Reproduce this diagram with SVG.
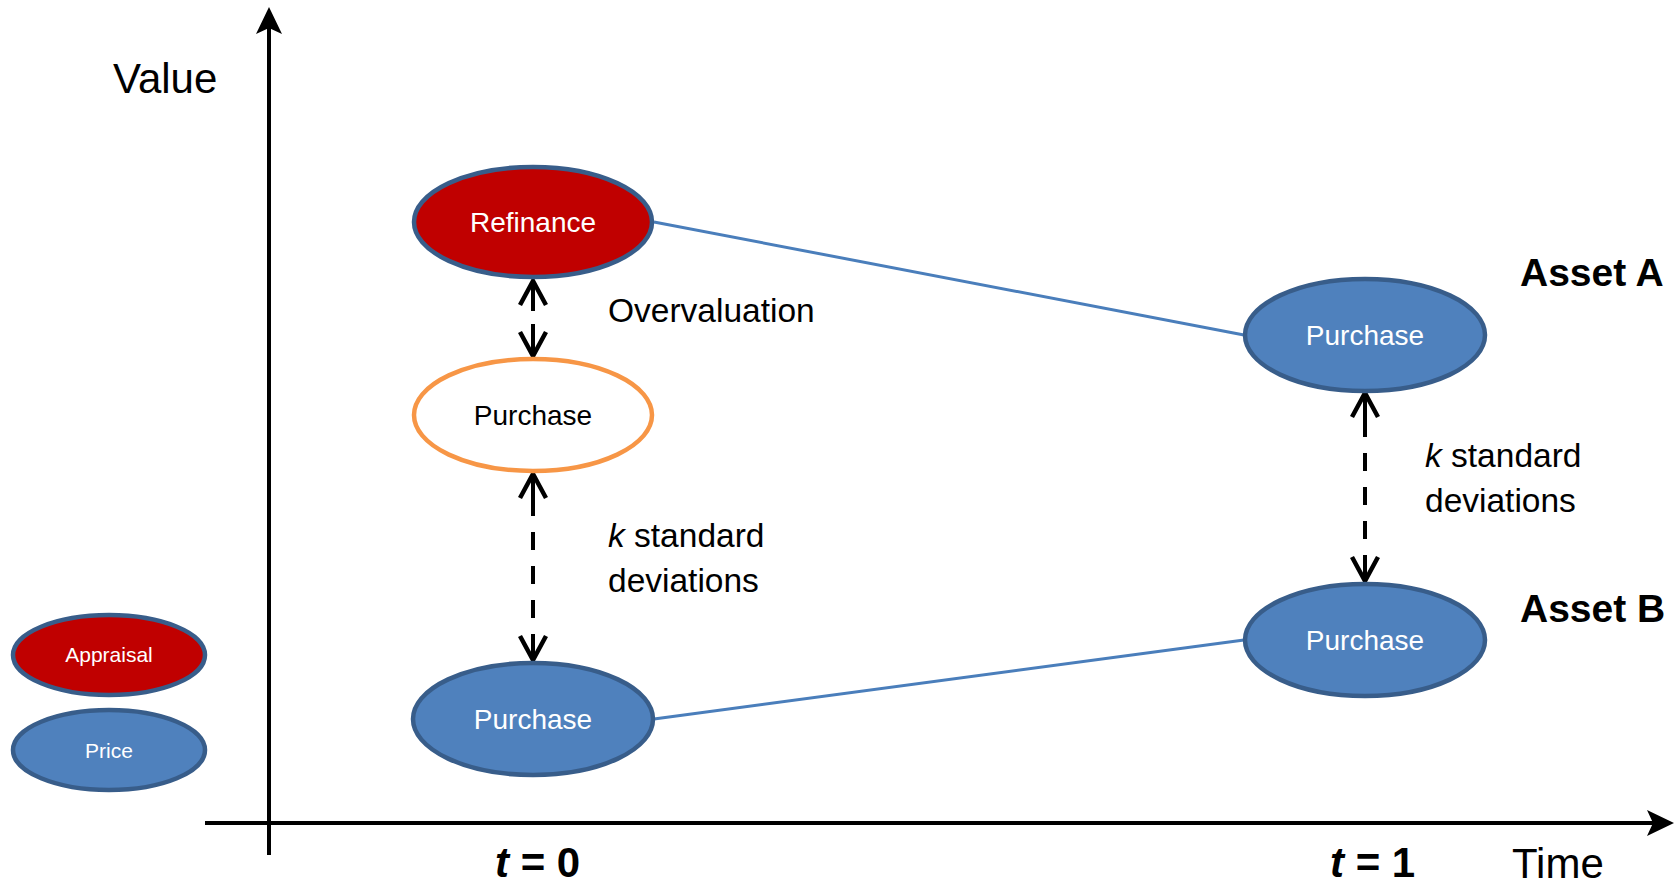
<svg xmlns="http://www.w3.org/2000/svg" width="1674" height="885" viewBox="0 0 1674 885">
<style>
  text { font-family: "Liberation Sans", Arial, sans-serif; fill: #000; }
  .node-blue { fill: #4F81BD; stroke: #385D8A; stroke-width: 4.5; }
  .node-red { fill: #C00000; stroke: #385D8A; stroke-width: 4.5; }
  .node-orange { fill: #FFFFFF; stroke: #F79646; stroke-width: 4.5; }
  .lbl-white { fill: #FFFFFF; font-size: 28px; text-anchor: middle; }
  .lbl-black { fill: #000000; font-size: 28px; text-anchor: middle; }
  .legend-lbl { fill: #FFFFFF; font-size: 21px; text-anchor: middle; }
  .link { stroke: #4A7EBB; stroke-width: 3; fill: none; }
  .dash-arrow { stroke: #000; stroke-width: 4; fill: none; marker-start: url(#openHead); marker-end: url(#openHead); }
  .axis { stroke: #000; stroke-width: 4; fill: none; }
  .note { font-size: 33.5px; }
  .asset { font-size: 39px; font-weight: bold; }
  .tick { font-size: 42px; font-weight: bold; }
  .axis-title { font-size: 42px; }
</style>
<defs>
  <marker id="openHead" markerUnits="userSpaceOnUse" viewBox="-30 -16 34 32" refX="0" refY="0" markerWidth="34" markerHeight="32" orient="auto-start-reverse">
    <path d="M -24 -13 L 0 0 L -24 13" fill="none" stroke="#000" stroke-width="4.5" stroke-linejoin="miter"/>
  </marker>
</defs>

<!-- axes -->
<g id="axes">
  <line class="axis" x1="269" y1="855" x2="269" y2="24"/>
  <path d="M269,7 L282,34 L269,28 L256,34 Z" fill="#000"/>
  <line class="axis" x1="205" y1="823" x2="1658" y2="823"/>
  <path d="M1674,823 L1647,810 L1653,823 L1647,836 Z" fill="#000"/>
  <text class="axis-title" x="113" y="93">Value</text>
  <text class="axis-title" x="1512" y="878">Time</text>
  <text class="tick" x="495" y="877"><tspan font-style="italic">t</tspan> = 0</text>
  <text class="tick" x="1330" y="877"><tspan font-style="italic">t</tspan> = 1</text>
</g>

<!-- connectors -->
<g id="connectors">
  <line class="link" x1="654" y1="222" x2="1244" y2="335"/>
  <line class="link" x1="654" y1="719" x2="1244" y2="640"/>
  <path class="dash-arrow" d="M533,281 L533,356" stroke-dasharray="30 13 40"/>
  <path class="dash-arrow" d="M533,474 L533,660" stroke-dasharray="42 16 18 16 18 16 18 16 30"/>
  <path class="dash-arrow" d="M1365,393 L1365,581" stroke-dasharray="44 16 18 16 18 16 18 16 30"/>
</g>

<!-- nodes -->
<g id="node-refinance">
  <ellipse class="node-red" cx="533" cy="222" rx="119" ry="55"/>
  <text class="lbl-white" x="533" y="232">Refinance</text>
</g>
<g id="node-purchase-orange">
  <ellipse class="node-orange" cx="533" cy="415" rx="119" ry="56"/>
  <text class="lbl-black" x="533" y="425">Purchase</text>
</g>
<g id="node-purchase-b0">
  <ellipse class="node-blue" cx="533" cy="719" rx="120" ry="56"/>
  <text class="lbl-white" x="533" y="729">Purchase</text>
</g>
<g id="node-purchase-a1">
  <ellipse class="node-blue" cx="1365" cy="335" rx="120" ry="56"/>
  <text class="lbl-white" x="1365" y="345">Purchase</text>
</g>
<g id="node-purchase-b1">
  <ellipse class="node-blue" cx="1365" cy="640" rx="120" ry="56"/>
  <text class="lbl-white" x="1365" y="650">Purchase</text>
</g>

<!-- annotations -->
<g id="labels">
  <text class="note" x="608" y="322">Overvaluation</text>
  <text class="note" x="608" y="547"><tspan font-style="italic">k</tspan> standard</text>
  <text class="note" x="608" y="592">deviations</text>
  <text class="note" x="1425" y="467"><tspan font-style="italic">k</tspan> standard</text>
  <text class="note" x="1425" y="512">deviations</text>
  <text class="asset" x="1520" y="286">Asset A</text>
  <text class="asset" x="1520" y="622">Asset B</text>
</g>

<!-- legend -->
<g id="legend-appraisal">
  <ellipse class="node-red" cx="109" cy="655" rx="96" ry="40"/>
  <text class="legend-lbl" x="109" y="662">Appraisal</text>
</g>
<g id="legend-price">
  <ellipse class="node-blue" cx="109" cy="750" rx="96" ry="40"/>
  <text class="legend-lbl" x="109" y="758">Price</text>
</g>
</svg>
